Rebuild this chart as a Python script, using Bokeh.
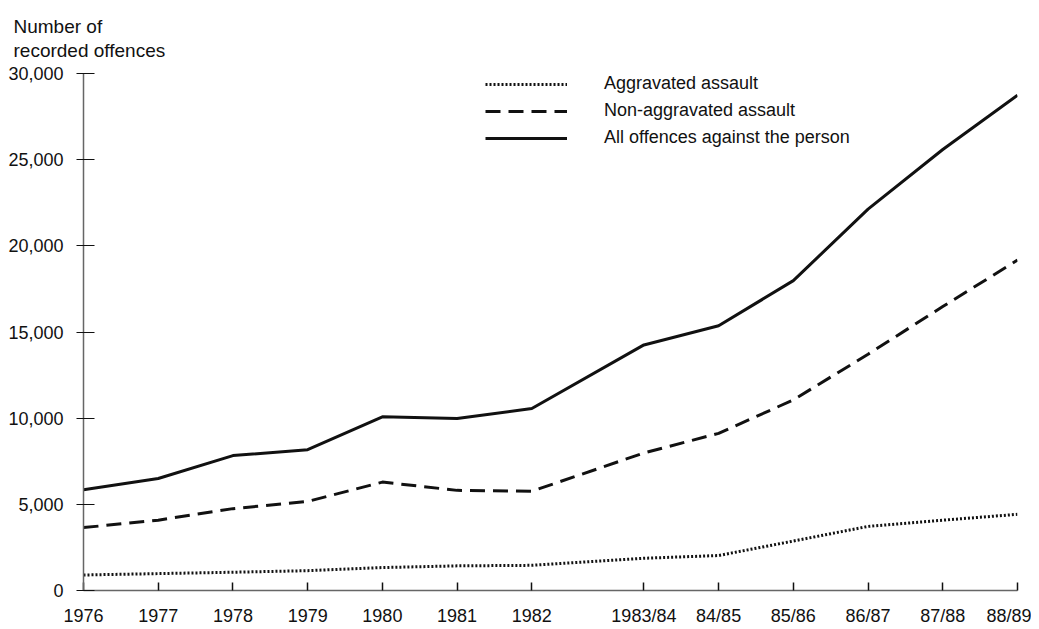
from bokeh.plotting import figure
from bokeh.models import (Range1d, FixedTicker, NumeralTickFormatter, Title,
                          Legend, LegendItem)
from bokeh.embed import file_html
from bokeh.resources import INLINE

# ---- data ----
periods = ["1976", "1977", "1978", "1979", "1980", "1981", "1982",
           "1983/84", "84/85", "85/86", "86/87", "87/88", "88/89"]
period_x = [1976, 1977, 1978, 1979, 1980, 1981, 1982,
            1983.5, 1984.5, 1985.5, 1986.5, 1987.5, 1988.5]
aggravated = [900, 980, 1060, 1150, 1330, 1430, 1460,
              1870, 2030, 2870, 3720, 4080, 4420]
non_aggravated = [3650, 4080, 4750, 5170, 6290, 5810, 5760,
                  7980, 9120, 11060, 13710, 16480, 19170]
all_offences = [5850, 6500, 7830, 8170, 10080, 9980, 10560,
                14250, 15360, 17980, 22130, 25590, 28740]
y_ticks = [0, 5000, 10000, 15000, 20000, 25000, 30000]
series_names = ["Aggravated assault", "Non-aggravated assault",
                "All offences against the person"]
y_title = "Number of\nrecorded offences"

FONT = "Liberation Sans"

title = Title(text=y_title, align="left", offset=-70, standoff=24,
              text_font=FONT, text_font_size="19px", text_font_style="normal",
              text_color="#111111", text_line_height=1.15)

p = figure(width=1031, height=628, output_backend="svg", toolbar_location=None,
           x_range=Range1d(period_x[0], period_x[-1]),
           y_range=Range1d(0, 30000),
           title=title,
           min_border_left=83, min_border_right=14,
           min_border_top=73, min_border_bottom=37)
p.outline_line_color = None
p.xgrid.grid_line_color = None
p.ygrid.grid_line_color = None
p.background_fill_color = "white"
p.border_fill_color = "white"

r_agg = p.line(period_x, aggravated, line_color="#111111", line_width=3,
               line_dash="2 2")
r_non = p.line(period_x, non_aggravated, line_color="#111111", line_width=3,
               line_dash="15 8")
r_all = p.line(period_x, all_offences, line_color="#111111", line_width=3)

# x axis
xa = p.xaxis[0]
xa.ticker = FixedTicker(ticks=period_x)
xa.major_label_overrides = {float(x): s for x, s in zip(period_x, periods)}
xa.major_tick_in = 8
xa.major_tick_out = 0
xa.minor_tick_line_color = None
xa.axis_line_color = "#666666"
xa.axis_line_width = 1.5
xa.major_tick_line_color = "#111111"
xa.major_tick_line_width = 1.5
xa.major_label_text_font = FONT
xa.major_label_text_font_size = "18px"
xa.major_label_text_color = "#111111"
xa.major_label_standoff = 15

# y axis
ya = p.yaxis[0]
ya.ticker = FixedTicker(ticks=y_ticks)
ya.formatter = NumeralTickFormatter(format="0,0")
ya.major_tick_in = 11
ya.major_tick_out = 7
ya.minor_tick_line_color = None
ya.axis_line_color = "#666666"
ya.axis_line_width = 1.5
ya.major_tick_line_color = "#111111"
ya.major_tick_line_width = 1.2
ya.major_label_text_font = FONT
ya.major_label_text_font_size = "18px"
ya.major_label_text_color = "#111111"
ya.major_label_standoff = 13

legend = Legend(items=[LegendItem(label=series_names[0], renderers=[r_agg]),
                       LegendItem(label=series_names[1], renderers=[r_non]),
                       LegendItem(label=series_names[2], renderers=[r_all])],
                location=(402, 442), orientation="vertical",
                glyph_width=82, glyph_height=18, label_height=18,
                label_standoff=37, spacing=6, padding=0, margin=0,
                border_line_color=None, background_fill_alpha=0,
                label_text_font=FONT, label_text_font_size="18px",
                label_text_color="#111111")
p.add_layout(legend, "center")

open("out.html", "w").write(file_html(p, INLINE))
